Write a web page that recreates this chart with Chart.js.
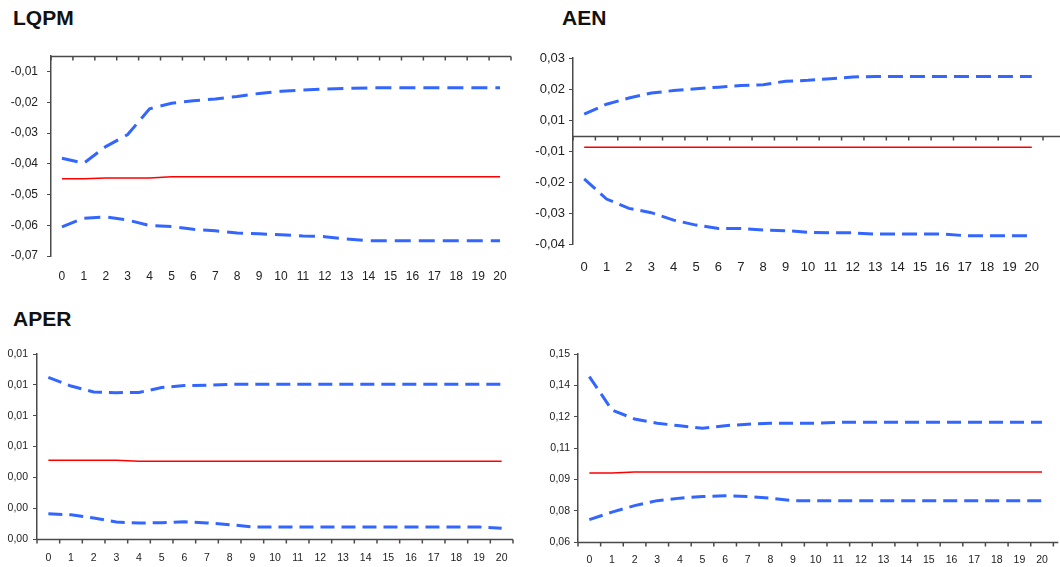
<!DOCTYPE html>
<html>
<head>
<meta charset="utf-8">
<script src="https://cdn.jsdelivr.net/npm/chart.js@4/dist/chart.umd.min.js"></script>
<style>
  body { margin: 0; background: #fff; width: 1060px; height: 567px; position: relative; overflow: hidden; font-family: "Liberation Sans", Arial, sans-serif; }
  .title { position: absolute; font-weight: bold; font-size: 21px; color: #111; }
  .box { position: absolute; }
  canvas { display: block; }
</style>
</head>
<body>
<div class="title" style="left:13px;top:6px">LQPM</div>
<div class="title" style="left:562px;top:6px">AEN</div>
<div class="title" style="left:13px;top:307px">APER</div>

<div class="box" style="left:0;top:40px"><canvas id="c1" width="525" height="260"></canvas></div>
<div class="box" style="left:525px;top:40px"><canvas id="c2" width="535" height="250"></canvas></div>
<div class="box" style="left:0;top:330px"><canvas id="c3" width="525" height="237"></canvas></div>
<div class="box" style="left:530px;top:330px"><canvas id="c4" width="530" height="237"></canvas></div>

<script>
const periods = ["0","1","2","3","4","5","6","7","8","9","10","11","12","13","14","15","16","17","18","19","20"];

// LQPM
const lqpmUpper = [-0.0332,-0.0348,-0.0294,-0.0255,-0.0171,-0.0153,-0.0145,-0.0139,-0.0131,-0.0121,-0.0114,-0.0110,-0.0107,-0.0105,-0.0103,-0.0103,-0.0103,-0.0103,-0.0103,-0.0103,-0.0103];
const lqpmResponse = [-0.0399,-0.0399,-0.0396,-0.0396,-0.0396,-0.0392,-0.0392,-0.0392,-0.0392,-0.0392,-0.0392,-0.0392,-0.0392,-0.0392,-0.0392,-0.0392,-0.0392,-0.0392,-0.0392,-0.0392,-0.0392];
const lqpmLower = [-0.0555,-0.0527,-0.0523,-0.0533,-0.0551,-0.0554,-0.0563,-0.0568,-0.0575,-0.0578,-0.0581,-0.0585,-0.0587,-0.0595,-0.0600,-0.0600,-0.0600,-0.0600,-0.0600,-0.0600,-0.0600];
const lqpmTicks = [-0.065,-0.055,-0.045,-0.035,-0.025,-0.015,-0.005];
const lqpmTickLabels = ["-0,07","-0,06","-0,05","-0,04","-0,03","-0,02","-0,01"];

// AEN
const aenUpper = [0.0069,0.0101,0.0121,0.0137,0.0145,0.0151,0.0156,0.0161,0.0164,0.0175,0.0178,0.0183,0.0189,0.0190,0.0190,0.0190,0.0190,0.0190,0.0190,0.0190,0.0190];
const aenResponse = [-0.0038,-0.0038,-0.0038,-0.0038,-0.0038,-0.0038,-0.0038,-0.0038,-0.0038,-0.0038,-0.0038,-0.0038,-0.0038,-0.0038,-0.0038,-0.0038,-0.0038,-0.0038,-0.0038,-0.0038,-0.0038];
const aenLower = [-0.0140,-0.0205,-0.0235,-0.0249,-0.0273,-0.0289,-0.0300,-0.0300,-0.0305,-0.0307,-0.0312,-0.0314,-0.0314,-0.0318,-0.0318,-0.0318,-0.0318,-0.0323,-0.0323,-0.0323,-0.0323];
const aenTicks = [-0.035,-0.025,-0.015,-0.005,0.005,0.015,0.025];
const aenTickLabels = ["-0,04","-0,03","-0,02","-0,01","0,01","0,02","0,03"];

// APER
const aperUpper = [0.01049,0.00992,0.00954,0.00949,0.00951,0.00982,0.00995,0.00997,0.01003,0.01003,0.01003,0.01003,0.01003,0.01003,0.01003,0.01003,0.01003,0.01003,0.01003,0.01003,0.01003];
const aperResponse = [0.00511,0.00511,0.00511,0.00511,0.00505,0.00505,0.00505,0.00505,0.00505,0.00505,0.00505,0.00505,0.00505,0.00505,0.00505,0.00505,0.00505,0.00505,0.00505,0.00505,0.00505];
const aperLower = [0.00164,0.00157,0.00136,0.00110,0.00104,0.00106,0.00112,0.00104,0.00093,0.00078,0.00078,0.00078,0.00078,0.00078,0.00078,0.00078,0.00078,0.00078,0.00078,0.00078,0.00069];
const aperTicks = [0,0.002,0.004,0.006,0.008,0.010,0.012];
const aperTickLabels = ["0,00","0,00","0,00","0,01","0,01","0,01","0,01"];

// fourth panel (no title)
const lastUpper = [0.1392,0.1232,0.1189,0.1169,0.1156,0.1145,0.1157,0.1164,0.1169,0.1169,0.1169,0.1173,0.1173,0.1173,0.1173,0.1173,0.1173,0.1173,0.1173,0.1173,0.1173];
const lastResponse = [0.0930,0.0930,0.0935,0.0935,0.0935,0.0935,0.0935,0.0935,0.0935,0.0935,0.0935,0.0935,0.0935,0.0935,0.0935,0.0935,0.0935,0.0935,0.0935,0.0935,0.0935];
const lastLower = [0.0707,0.0743,0.0774,0.0798,0.0810,0.0818,0.0821,0.0818,0.0810,0.0798,0.0798,0.0798,0.0798,0.0798,0.0798,0.0798,0.0798,0.0798,0.0798,0.0798,0.0798];
const lastTicks = [0.06,0.075,0.09,0.105,0.12,0.135,0.15];
const lastTickLabels = ["0,06","0,08","0,09","0,11","0,12","0,14","0,15"];

const blue = "#3366ff";
const red = "#ff0000";
const axisColor = "#4a4a4a";

// horizontal axis drawn where it crosses the value axis, with marks between categories
function crossAxis(at, extendRight) {
  return {
    id: "crossAxis",
    beforeDatasetsDraw(chart) {
      const { ctx, chartArea, scales } = chart;
      const x = scales.x, y = scales.y;
      const yPix = Math.round(y.getPixelForValue(at)) + 0.5;
      const step = x.getPixelForValue(1) - x.getPixelForValue(0);
      ctx.save();
      ctx.strokeStyle = axisColor;
      ctx.lineWidth = 1.5;
      ctx.beginPath();
      ctx.moveTo(chartArea.left, yPix);
      ctx.lineTo(chartArea.right + (extendRight || 0), yPix);
      for (let i = 0; i <= periods.length; i++) {
        const px = x.getPixelForValue(0) - step / 2 + i * step;
        ctx.moveTo(px, yPix);
        ctx.lineTo(px, yPix + 4);
      }
      ctx.stroke();
      ctx.restore();
    }
  };
}

function buildPanel(canvasId, cfg) {
  const ctx = document.getElementById(canvasId);

  const band = (data, dash) => ({
    data: data,
    borderColor: blue,
    borderWidth: 3,
    borderDash: dash,
    borderCapStyle: "butt",
    pointRadius: 0,
    fill: false,
    tension: 0
  });

  new Chart(ctx, {
    type: "line",
    data: {
      labels: periods,
      datasets: [
        band(cfg.upper, cfg.dash),
        {
          data: cfg.response,
          borderColor: red,
          borderWidth: 1.5,
          pointRadius: 0,
          fill: false,
          tension: 0
        },
        band(cfg.lower, cfg.dash)
      ]
    },
    options: {
      responsive: false,
      animation: false,
      devicePixelRatio: 1,
      layout: { padding: { left: 0, top: cfg.padTop, right: cfg.padRight, bottom: 0 } },
      plugins: { legend: { display: false }, tooltip: { enabled: false } },
      scales: {
        x: {
          offset: true,
          grid: { display: false, drawTicks: false },
          border: { display: false },
          ticks: {
            autoSkip: false,
            maxRotation: 0,
            padding: cfg.xPad,
            color: "#222",
            font: cfg.font
          },
          afterFit: s => { s.height = cfg.xHeight; }
        },
        y: {
          min: cfg.min,
          max: cfg.max,
          afterBuildTicks: s => { s.ticks = cfg.ticks.map(v => ({ value: v })); },
          afterFit: s => { s.width = cfg.yWidth; },
          grid: { drawOnChartArea: false, drawTicks: true, tickLength: 4, tickColor: axisColor, color: axisColor },
          border: { display: true, color: axisColor, width: 1.5 },
          ticks: {
            padding: cfg.yPad,
            color: "#222",
            font: cfg.font,
            callback: (v, i) => cfg.tickLabels[i]
          }
        }
      }
    },
    plugins: [crossAxis(cfg.cross, cfg.extendRight)]
  });
}

buildPanel("c1", {
  upper: lqpmUpper, response: lqpmResponse, lower: lqpmLower,
  ticks: lqpmTicks, tickLabels: lqpmTickLabels, min: -0.065, max: 0, cross: 0,
  dash: [16, 8], padTop: 13, padRight: 14, yWidth: 51, xHeight: 44, xPad: 13, yPad: 9,
  font: { family: "'Liberation Sans', Arial, sans-serif", size: 12 }
});

buildPanel("c2", {
  upper: aenUpper, response: aenResponse, lower: aenLower,
  ticks: aenTicks, tickLabels: aenTickLabels, min: -0.035, max: 0.025, cross: 0,
  dash: [15, 7], padTop: 18, padRight: 17, yWidth: 48, xHeight: 46, xPad: 16, yPad: 4, extendRight: 17,
  font: { family: "'Liberation Sans Narrow', 'Arial Narrow', 'Liberation Sans', sans-serif", size: 13 }
});

buildPanel("c3", {
  upper: aperUpper, response: aperResponse, lower: aperLower,
  ticks: aperTicks, tickLabels: aperTickLabels, min: 0, max: 0.012, cross: 0,
  dash: [14, 7], padTop: 24, padRight: 12, yWidth: 37, xHeight: 28, xPad: 13, yPad: 5,
  font: { family: "'Liberation Sans', Arial, sans-serif", size: 10.5 }
});

buildPanel("c4", {
  upper: lastUpper, response: lastResponse, lower: lastLower,
  ticks: lastTicks, tickLabels: lastTickLabels, min: 0.06, max: 0.15, cross: 0.06,
  dash: [14, 7], padTop: 24, padRight: 5, yWidth: 48, xHeight: 25, xPad: 12, yPad: 4, extendRight: 5,
  font: { family: "'Liberation Sans', Arial, sans-serif", size: 10.5 }
});
</script>
</body>
</html>
